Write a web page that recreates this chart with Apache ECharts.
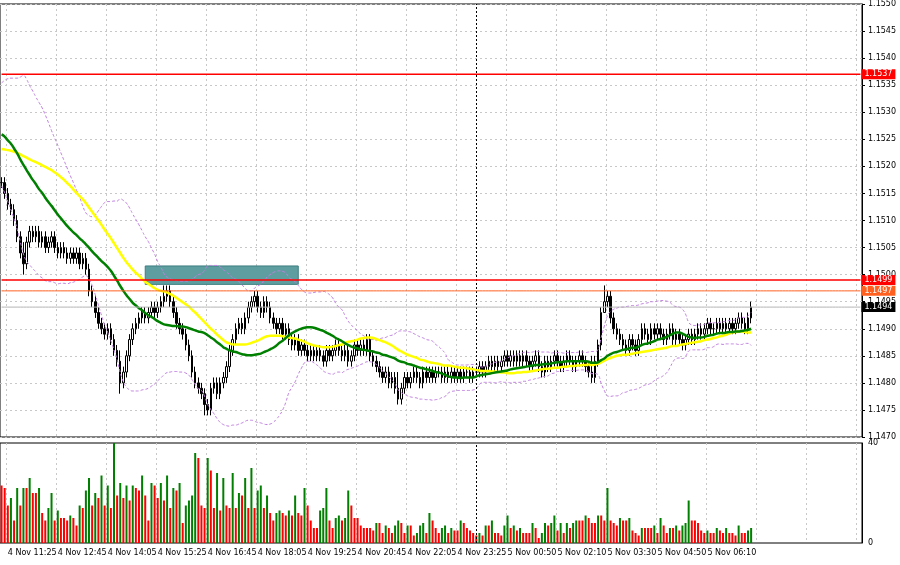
<!DOCTYPE html>
<html>
<head>
<meta charset="utf-8">
<script src="https://cdn.jsdelivr.net/npm/echarts@6/dist/echarts.min.js"></script>
<style>html,body{margin:0;padding:0;background:#fff}#chart{width:900px;height:565px}</style>
</head>
<body>
<div id="chart"></div>
<script>
// prices are pips above 1.1400
var base = 1.1400;
var historyCloses = [116,117,118,117,116,117,118,119,118,117,116,117,118,119,120,119,118,119,120,121,120,121,122,123,
                     125,127,129,130,131,132,131,130,131,132,130,129,128,127,128,127,126,125,124,123,122,121,120,119,118,117];
var closes = [
117,115,113,112,110,107,104,102,106,108,
107,108,106,107,105,106,107,105,104,105,
104,103,104,103,104,102,103,101,97,95,
93,91,90,89,90,88,86,84,80,82,
85,88,90,91,92,93,92,93,94,93,
94,95,96,97,95,93,91,90,89,87,
85,82,80,79,78,76,75,79,80,78,
80,81,83,86,88,90,91,90,92,94,
95,96,94,93,95,94,92,91,90,91,
89,90,88,87,88,86,87,86,85,86,
85,86,85,84,86,85,86,87,86,85,
86,84,85,87,86,87,86,88,85,84,
83,82,81,82,80,81,79,77,79,81,
80,81,82,81,80,82,81,82,81,82,
82,81,82,81,82,81,82,81,82,82,
81,82,82,83,82,83,84,83,84,83,
84,85,84,85,84,85,84,85,84,83,
84,85,83,82,84,83,84,85,84,83,
84,85,84,83,84,85,84,83,82,81,
84,87,93,95,96,92,90,89,88,87,
86,88,87,86,88,90,89,88,90,89,
90,89,88,89,90,88,89,88,87,88,
89,88,89,90,89,90,91,90,90,91,
90,91,90,91,90,91,92,91,90,92,94];
// [index, high, low] for the long wicks
var extremes = [[7,106,100],[38,86,78],[52,98,94],[65,79,74],[81,97,94],[127,82,76],[189,85,80],[193,98,93]];
var volumes = [
23,22,15,18,9,22,15,22,22,26,20,20,22,12,9,14,20,9,13,10,10,9,11,10,7,15,14,21,
26,15,20,18,27,15,23,14,40,19,24,18,23,17,23,22,21,27,19,9,24,23,18,24,17,27,14,22,21,24,
8,15,17,19,36,34,15,14,34,29,14,28,13,26,15,14,28,14,20,19,26,14,30,14,21,23,14,19,12,9,
12,13,12,11,13,11,19,12,11,22,15,9,6,6,13,14,22,9,6,10,11,9,10,21,15,10,10,7,
6,6,6,5,8,8,4,7,6,4,7,9,8,4,7,7,3,4,7,8,4,12,9,6,4,6,
7,4,6,5,5,9,8,6,5,4,3,4,3,7,7,9,4,4,3,7,11,6,7,5,6,4,4,4,8,
6,2,4,8,7,8,11,5,8,4,8,6,8,9,9,9,11,10,8,8,11,11,9,22,9,8,7,10,
9,9,10,5,4,3,6,6,6,6,7,4,10,7,4,6,6,7,5,7,8,17,9,9,8,5,4,5,4,
4,6,5,4,6,4,4,3,7,4,4,5,6];
var tickLabels = ['4 Nov 11:25','4 Nov 12:45','4 Nov 14:05','4 Nov 15:25','4 Nov 16:45','4 Nov 18:05','4 Nov 19:25','4 Nov 20:45','4 Nov 22:05','4 Nov 23:25','5 Nov 00:50','5 Nov 02:10','5 Nov 03:30','5 Nov 04:50','5 Nov 06:10'];
var levels = [1.1537, 1.1499, 1.1497, 1.1494];
var levelColors = ['#ff0000', '#ff0000', '#ff6020', '#000000'];

var N = 276, firstTick = 2, step = 16;
var cats = [];
for (var i = 0; i < N; i++) cats.push(String(i));
function isTick(idx) { return idx >= firstTick && (idx - firstTick) % step === 0 && (idx - firstTick) / step < tickLabels.length; }
function isGrid(idx) { return idx >= firstTick && (idx - firstTick) % step === 0; }
function px(p) { return +(base + p / 10000).toFixed(5); }

var all = historyCloses.concat(closes);
var ohlc = [];
closes.forEach(function (c, i) {
    var o = i === 0 ? historyCloses[historyCloses.length - 1] : closes[i - 1];
    var hi = Math.max(o, c) + 1, lo = Math.min(o, c) - 1;
    extremes.forEach(function (e) { if (e[0] === i) { hi = e[1]; lo = e[2]; } });
    ohlc.push([px(o), px(c), px(lo), px(hi)]);
});
function sma(n, k) {
    var mid = [], up = [], dn = [];
    for (var i = 0; i < closes.length; i++) {
        var j = i + historyCloses.length, s = 0, w = all.slice(Math.max(0, j - n + 1), j + 1);
        w.forEach(function (v) { s += v; });
        var m = s / w.length, sd = 0;
        w.forEach(function (v) { sd += (v - m) * (v - m); });
        sd = Math.sqrt(sd / w.length);
        mid.push(px(m)); up.push(px(m + k * sd)); dn.push(px(m - k * sd));
    }
    return [mid, up, dn];
}
var green = sma(26, 2), yellow = sma(45, 0);
var volData = volumes.map(function (v, i) {
    return { value: v, itemStyle: { color: (i > 0 && v > volumes[i - 1]) ? '#008000' : '#ff0000' } };
});

var chart = echarts.init(document.getElementById('chart'));
var xBase = {
    type: 'category', data: cats, boundaryGap: true,
    axisLine: { show: false }, axisTick: { show: false },
    splitLine: { show: true, interval: function (idx) { return isGrid(idx); }, lineStyle: { color: '#c8c8c8', type: [2, 3] } }
};
var levelSeries = levels.map(function (v, k) {
    var col = levelColors[k];
    return { type: 'line', data: cats.map(function () { return v; }), symbol: 'none', silent: true, z: 6,
             lineStyle: { color: col === '#000000' ? '#b4b4b4' : col, width: k < 2 ? 1.5 : 1 },
             endLabel: { show: true, distance: 1, formatter: v.toFixed(4), color: '#fff', backgroundColor: col,
                         fontFamily: 'DejaVu Sans', fontSize: 8, padding: [1, 3] } };
});
chart.setOption({
    animation: false,
    backgroundColor: '#ffffff',
    grid: [
        { left: 0, right: 38, top: 4, height: 433, show: true, borderColor: '#000', borderWidth: 1 },
        { left: 0, right: 38, top: 443, height: 100, show: true, borderColor: '#000', borderWidth: 1 }
    ],
    xAxis: [
        Object.assign({ gridIndex: 0, axisLabel: { show: false } }, xBase),
        Object.assign({ gridIndex: 1, axisLabel: {
            show: true, interval: function (idx) { return isTick(idx); }, align: 'left', margin: 6,
            fontFamily: 'DejaVu Sans', fontSize: 8, color: '#000',
            formatter: function (v, idx) { return tickLabels[(idx - firstTick) / step] || ''; }
        } }, xBase)
    ],
    yAxis: [
        { gridIndex: 0, position: 'right', min: 1.147, max: 1.155, interval: 0.0005,
          axisLine: { show: true, lineStyle: { color: '#000' } }, axisTick: { show: true, length: 3, lineStyle: { color: '#000' } },
          axisLabel: { fontFamily: 'DejaVu Sans', fontSize: 8, color: '#000', margin: 6, formatter: function (v) { return v.toFixed(4); } },
          splitLine: { show: true, lineStyle: { color: '#c8c8c8', type: [2, 3] } } },
        { gridIndex: 1, position: 'right', min: 0, max: 40, interval: 40,
          axisLine: { show: true, lineStyle: { color: '#000' } }, axisTick: { show: false },
          axisLabel: { fontFamily: 'DejaVu Sans', fontSize: 8, color: '#000', margin: 6 },
          splitLine: { show: false } }
    ],
    series: [
        { type: 'candlestick', xAxisIndex: 0, yAxisIndex: 0, data: ohlc, barWidth: 2,
          itemStyle: { color: '#ffffff', color0: '#000000', borderColor: '#000000', borderColor0: '#000000', borderWidth: 1 },
          markArea: { silent: true, itemStyle: { color: '#5f9ea0', borderColor: '#3d7f80', borderWidth: 1 },
                      data: [[{ xAxis: 46, yAxis: 1.15016 }, { xAxis: 95, yAxis: 1.14982 }]] } },
        { type: 'line', data: green[1], symbol: 'none', smooth: true, lineStyle: { color: '#c080e0', width: 1, type: [3, 2] }, z: 3 },
        { type: 'line', data: green[2], symbol: 'none', smooth: true, lineStyle: { color: '#c080e0', width: 1, type: [3, 2] }, z: 3 },
        { type: 'line', data: yellow[0], symbol: 'none', smooth: true, lineStyle: { color: '#ffff00', width: 2.5 }, z: 4 },
        { type: 'line', data: green[0], symbol: 'none', smooth: true, lineStyle: { color: '#008000', width: 2.5 }, z: 5,
          markLine: { silent: true, symbol: 'none', label: { show: false },
                      data: [{ xAxis: 152, lineStyle: { color: '#000', type: [2, 2], width: 1 } }] } },
        { type: 'bar', xAxisIndex: 1, yAxisIndex: 1, data: volData, barWidth: 2,
          markLine: { silent: true, symbol: 'none', label: { show: false },
                      data: [{ xAxis: 152, lineStyle: { color: '#000', type: [2, 2], width: 1 } }] } }
    ].concat(levelSeries)
});
</script>
</body>
</html>
